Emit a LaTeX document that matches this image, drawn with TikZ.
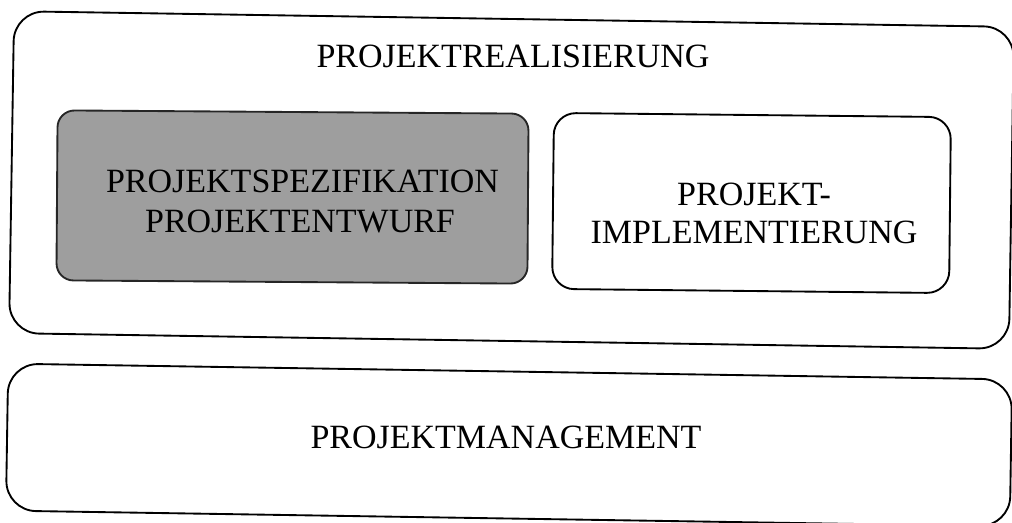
\documentclass[tikz,border=0pt]{standalone}
\usepackage{fontspec}
\setmainfont{Liberation Serif}
\begin{document}
\begin{tikzpicture}[x=0.75pt,y=-0.75pt,
  panel/.style={draw=black, line width=1.4pt, inner sep=0pt, rounded corners=#1},
  shaded/.style={fill=black!38, draw=black!85},
  caption/.style={font=\fontsize{25.5}{30}\selectfont, anchor=base, inner sep=0pt}]
\useasboundingbox (0,0) rectangle (1012,522);

% outer frames
\node[panel=22.5pt, rotate=-0.9, minimum width=750pt, minimum height=241.5pt] (realisierung) at (511.5,180) {};
\node[panel=22.5pt, rotate=-0.9, minimum width=753pt, minimum height=110.25pt] (management) at (509,445) {};

% inner frames
\node[panel=12.75pt, shaded, rotate=-0.4, minimum width=353.25pt, minimum height=127.5pt] (spezifikation) at (292.5,197) {};
\node[panel=16.5pt, rotate=-0.6, minimum width=297.75pt, minimum height=132pt] (implementierung) at (751.5,203) {};

% labels
\node[caption] (tRealisierung) at (513,67) {PROJEKTREALISIERUNG};
\node[caption] (tManagement) at (506,448) {PROJEKTMANAGEMENT};
\node[caption] (tSpez) at (302.5,192) {PROJEKTSPEZIFIKATION};
\node[caption] (tEntwurf) at (300,232) {PROJEKTENTWURF};
\node[caption] (tProjekt) at (754,205) {PROJEKT-};
\node[caption] (tImpl) at (754,243) {IMPLEMENTIERUNG};
\end{tikzpicture}
\end{document}
